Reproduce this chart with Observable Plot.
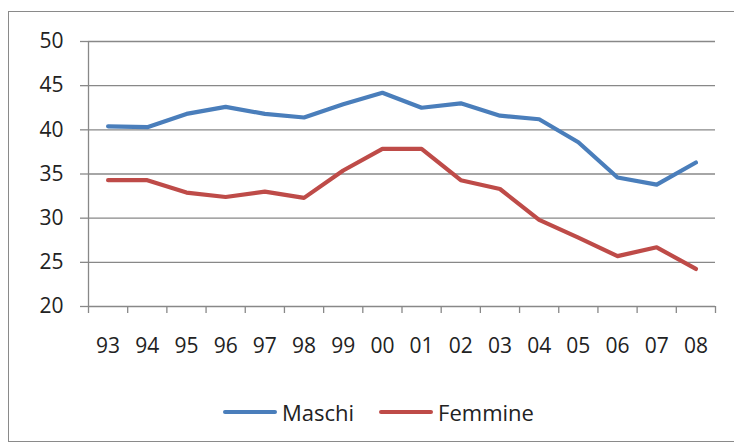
<!DOCTYPE html>
<html>
<head>
<meta charset="utf-8">
<script src="https://cdn.jsdelivr.net/npm/d3@7"></script>
<script src="https://cdn.jsdelivr.net/npm/@observablehq/plot@0.6"></script>
<style>
  html, body { margin: 0; padding: 0; background: #fff; }
  #wrap { position: relative; width: 734px; height: 445px; overflow: hidden; font-family: "Open Sans", sans-serif; }
  #frame { position: absolute; left: 8px; top: 11px; width: 740px; height: 431px; border: 1.5px solid #8a8a8a; box-sizing: border-box; }
  #chart { position: absolute; left: 0; top: 0; }
  #legend { position: absolute; left: 223px; top: 397px; display: flex; align-items: center; font-size: 22px; color: #222; }
  .item { display: flex; align-items: center; }
  .swatch { width: 54px; height: 4px; border-radius: 2px; margin-right: 5px; }
</style>
</head>
<body>
<div id="wrap">
  <div id="frame"></div>
  <div id="chart"></div>
  <div id="legend"></div>
</div>
<script>
const years = ["93","94","95","96","97","98","99","00","01","02","03","04","05","06","07","08"];
const maschi = [40.4, 40.3, 41.8, 42.6, 41.8, 41.4, 42.9, 44.2, 42.5, 43.0, 41.6, 41.2, 38.6, 34.6, 33.8, 36.3];
const femmine = [34.3, 34.3, 32.9, 32.4, 33.0, 32.3, 35.4, 37.85, 37.85, 34.3, 33.3, 29.8, 27.8, 25.7, 26.7, 24.25];
const seriesNames = ["Maschi", "Femmine"];
const seriesColors = ["#4a7ebb", "#be4b48"];
const yTicks = [20, 25, 30, 35, 40, 45, 50];

const idx = years.map((_, i) => i);
const bounds = [...idx.map(i => i - 0.5), years.length - 0.5];
const xDomain = [-0.5, years.length - 0.5];
const rows = [
  ...maschi.map((v, i) => ({serie: seriesNames[0], i, v})),
  ...femmine.map((v, i) => ({serie: seriesNames[1], i, v}))
];
const grid = "#888888";

const plot = Plot.plot({
  width: 734,
  height: 380,
  marginTop: 41,
  marginLeft: 88,
  marginRight: 19,
  marginBottom: 74,
  style: { fontFamily: "Open Sans, sans-serif", fontSize: "21px", color: "#222", background: "transparent", overflow: "visible" },
  x: { domain: xDomain, axis: null },
  y: { domain: [20, 50], axis: null },
  color: { domain: seriesNames, range: seriesColors },
  marks: [
    Plot.gridY(yTicks, { stroke: grid, strokeOpacity: 1, strokeWidth: 1.3 }),
    Plot.ruleX([xDomain[0]], { stroke: grid, strokeWidth: 1.3 }),
    Plot.axisY({ ticks: yTicks, tickSize: 8, tickPadding: 17, label: null, stroke: grid, strokeWidth: 1.3, strokeOpacity: 1, fill: "#222", tickFormat: d => String(d) }),
    Plot.axisX({ ticks: bounds, tickSize: 7, label: null, stroke: grid, strokeWidth: 1.3, strokeOpacity: 1, tickFormat: () => "" }),
    Plot.axisX({ ticks: idx, tickSize: 0, tickPadding: 32, label: null, fill: "#222", tickFormat: i => years[i] }),
    Plot.line(rows, { x: "i", y: "v", z: "serie", stroke: "serie", strokeWidth: 4.2, strokeLinejoin: "round", strokeLinecap: "round" })
  ]
});
document.getElementById("chart").appendChild(plot);

const legend = document.getElementById("legend");
seriesNames.forEach((name, k) => {
  const item = document.createElement("div");
  item.className = "item";
  if (k > 0) item.style.marginLeft = "25px";
  const sw = document.createElement("div");
  sw.className = "swatch";
  sw.style.background = seriesColors[k];
  const label = document.createElement("span");
  label.textContent = name;
  item.appendChild(sw);
  item.appendChild(label);
  legend.appendChild(item);
});
</script>
</body>
</html>
